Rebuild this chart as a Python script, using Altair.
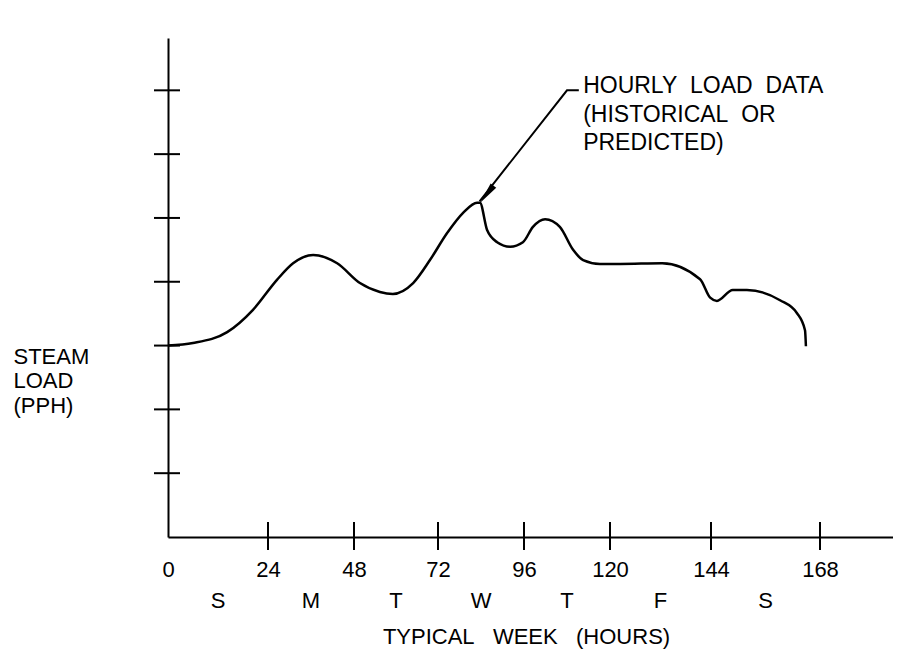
import altair as alt
import pandas as pd

# ---- data ----
hours = [0, 6.0, 14.2, 20.4, 26.5, 31.0, 36.6, 43.3, 49.7, 55.4, 59.1, 64.9, 69.7,
         74.5, 79.0, 82.9, 83.7, 85.7, 88.5, 92.1, 95.7, 98.5, 101.9, 106.0, 109.7,
         112.5, 117.2, 122.4, 132.4, 141.4, 143.8, 145.3, 148.8, 151.9, 159.2, 162.9,
         164.7, 164.9]
load = [3.0, 3.04, 3.21, 3.56, 4.03, 4.29, 4.42, 4.29, 3.98, 3.84, 3.81, 3.98, 4.34,
        4.76, 5.08, 5.24, 5.24, 4.81, 4.62, 4.55, 4.62, 4.86, 4.98, 4.86, 4.50,
        4.34, 4.28, 4.28, 4.29, 4.04, 3.75, 3.70, 3.87, 3.87, 3.71, 3.51,
        3.24, 2.99]

x_tick_hours = [0, 24, 48, 72, 96, 120, 144, 168]
x_cross_ticks = [24, 48, 72, 96, 120, 144, 168]
y_cross_ticks = [1, 2, 3, 4, 5, 6, 7]
day_letters = ["S", "M", "T", "W", "T", "F", "S"]
day_mid_hours = [12, 36, 60, 84, 108, 132, 156]

ann_lines = ["HOURLY\u00a0\u00a0LOAD\u00a0\u00a0DATA",
             "(HISTORICAL\u00a0\u00a0OR",
             "PREDICTED)"]
ann_hour = [112.5, 112.5, 112.5]
ann_load = [6.96, 6.51, 6.07]
leader_hour = [83.6, 108.0, 111.3]
leader_load = [5.26, 7.0, 7.0]
arrow_hour = [85.6]
arrow_load = [5.37]

x_title = "TYPICAL\u00a0\u00a0\u00a0WEEK\u00a0\u00a0\u00a0(HOURS)"
y_title = ["STEAM", "LOAD", "(PPH)"]

# ---- scales (hand-drawn axis: tick spacing is uneven) ----
FONT = "Liberation Sans"
W, H = 725, 499
x_axis_end = 184
xscale = alt.Scale(domain=x_tick_hours + [x_axis_end],
                   range=[0, 100, 186, 270, 356, 442, 543, 652, 725],
                   nice=False, zero=False)
yscale = alt.Scale(domain=[0, 7.82], nice=False, zero=False)

x_axis = alt.Axis(
    values=x_tick_hours, ticks=False, tickSize=0, grid=False,
    domainColor="black", domainWidth=2,
    labelFont=FONT, labelFontSize=22, labelColor="black",
    labelBaseline="alphabetic", labelPadding=39,
    labelFlush=False, labelOverlap=False,
    title=x_title, titleFont=FONT, titleFontSize=22, titleFontWeight="normal",
    titleColor="black", titleAlign="center", titleBaseline="alphabetic",
    titleX=358, titleY=106)
y_axis = alt.Axis(
    labels=False, ticks=False, grid=False,
    domainColor="black", domainWidth=2,
    title=y_title, titleFont=FONT, titleFontSize=22, titleFontWeight="normal",
    titleColor="black", titleAngle=0, titleAlign="left",
    titleBaseline="alphabetic", titleX=-155, titleY=325, titleLineHeight=24.5)

X = alt.X("hour:Q", scale=xscale, axis=x_axis)
Y = alt.Y("load:Q", scale=yscale, axis=y_axis)

curve_df = pd.DataFrame({"hour": hours, "load": load})
xt_df = pd.DataFrame({"hour": x_cross_ticks})
yt_df = pd.DataFrame({"load": y_cross_ticks})
day_df = pd.DataFrame({"hour": day_mid_hours, "day": day_letters})
ann_df = pd.DataFrame({"hour": ann_hour, "load": ann_load, "txt": ann_lines})
lead_df = pd.DataFrame({"hour": leader_hour, "load": leader_load,
                        "o": list(range(len(leader_hour)))})
arr_df = pd.DataFrame({"hour": arrow_hour, "load": arrow_load})

curve = alt.Chart(curve_df).mark_line(
    color="black", strokeWidth=2.5, interpolate="monotone"
).encode(x=X, y=Y)

xticks = alt.Chart(xt_df).mark_rule(color="black", strokeWidth=2).encode(
    x=X, y=alt.value(H - 15), y2=alt.value(H + 13))

yticks = alt.Chart(yt_df).mark_rule(color="black", strokeWidth=2).encode(
    y=Y, x=alt.value(-14), x2=alt.value(12))

days = alt.Chart(day_df).mark_text(
    font=FONT, fontSize=22, color="black", baseline="alphabetic", align="center"
).encode(x=X, y=alt.value(570), text="day:N")

ann = alt.Chart(ann_df).mark_text(
    font=FONT, fontSize=23, color="black", baseline="alphabetic", align="left"
).encode(x=X, y=Y, text="txt:N")

leader = alt.Chart(lead_df).mark_line(color="black", strokeWidth=2).encode(
    x=X, y=Y, order="o:Q")

arrow = alt.Chart(arr_df).mark_point(
    shape="M0,-1L0.32,1L-0.32,1Z", filled=True, color="black", opacity=1,
    size=484, angle=217.6
).encode(x=X, y=Y)

chart = alt.layer(curve, xticks, yticks, days, ann, leader, arrow).properties(
    width=W, height=H,
    autosize=alt.AutoSizeParams(type="none"),
    padding={"left": 160, "top": 30, "right": 0, "bottom": 116},
    background="white",
).configure_view(stroke="transparent")

chart.save("out.html", embed_options={"renderer": "svg", "actions": False})
